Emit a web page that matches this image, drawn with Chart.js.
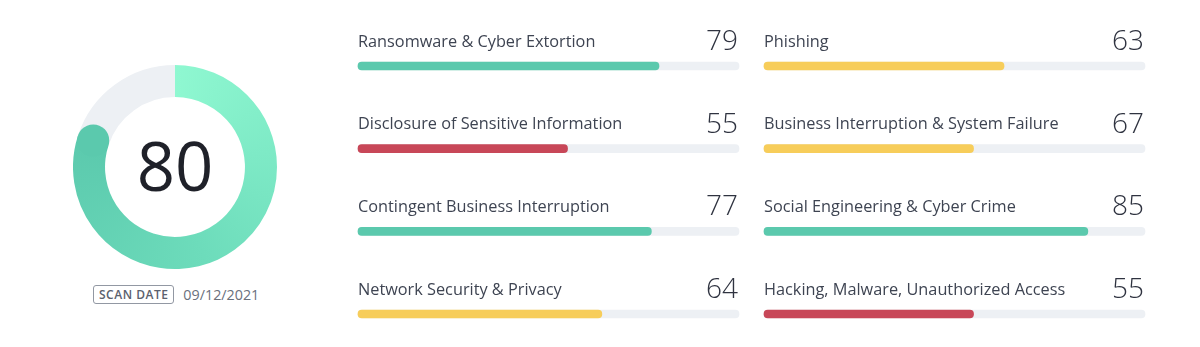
<!DOCTYPE html>
<html>
<head>
<meta charset="utf-8">
<script src="https://cdn.jsdelivr.net/npm/chart.js@4"></script>
<style>
  html, body { margin: 0; padding: 0; background: #fff; overflow: hidden; }
  body { width: 1200px; height: 347px; position: relative; font-family: "Open Sans", sans-serif; }
  .box { position: absolute; }
  #scan { position: absolute; left: 93px; top: 285px; height: 19px; display: flex; align-items: center; }
  #scan .tag { border: 1px solid #9298a3; border-radius: 3px; padding: 0 5px; height: 17px; line-height: 17px;
               font-size: 12px; font-weight: 600; letter-spacing: 0.5px; color: #5b616e; }
  #scan .date { margin-left: 9px; font-size: 14.3px; color: #6a707c; }
</style>
</head>
<body>
<div class="box" style="left:73px;top:65px;width:204px;height:204px;"><canvas id="gauge"></canvas></div>
<div class="box" style="left:340px;top:0;width:420px;height:347px;"><canvas id="leftBars"></canvas></div>
<div class="box" style="left:750px;top:0;width:420px;height:347px;"><canvas id="rightBars"></canvas></div>
<div id="scan"><span class="tag">SCAN DATE</span><span class="date" id="scanDate"></span></div>

<script>
// overall score and scan date
var score = 80;
var scanDate = "09/12/2021";

// left column of categories
var leftLabels = [
  "Ransomware & Cyber Extortion",
  "Disclosure of Sensitive Information",
  "Contingent Business Interruption",
  "Network Security & Privacy"
];
var leftScores = [79, 55, 77, 64];   // numbers shown
var leftFills = [79, 55, 77, 64];    // bar lengths as drawn

// right column of categories
var rightLabels = [
  "Phishing",
  "Business Interruption & System Failure",
  "Social Engineering & Cyber Crime",
  "Hacking, Malware, Unauthorized Access"
];
var rightScores = [63, 67, 85, 55];
var rightFills = [63, 55, 85, 55];   // the 67 bar is drawn at 55 in the source

var maxScore = 100;

var GREEN = "#5bc9ad", YELLOW = "#f7cd5a", RED = "#c84758", TRACK = "#edf0f4";

function scoreColor(v) {
  if (v >= 70) return GREEN;
  if (v >= 60) return YELLOW;
  return RED;
}

document.getElementById("scanDate").textContent = scanDate;

// gauge: doughnut with a conic gradient, a round cap and the score in the middle
var gaugePlugin = {
  id: "gaugeDecor",
  afterDatasetsDraw: function (chart) {
    var ctx = chart.ctx;
    var arc = chart.getDatasetMeta(0).data[0];
    var mid = (arc.innerRadius + arc.outerRadius) / 2;
    var capR = (arc.outerRadius - arc.innerRadius) / 2;
    ctx.save();
    ctx.fillStyle = GREEN;
    ctx.beginPath();
    ctx.arc(arc.x + Math.cos(arc.endAngle) * mid, arc.y + Math.sin(arc.endAngle) * mid, capR, 0, Math.PI * 2);
    ctx.fill();
    ctx.fillStyle = "#1f2129";
    ctx.font = "400 67px 'Open Sans'";
    ctx.textAlign = "center";
    ctx.textBaseline = "alphabetic";
    ctx.fillText(String(chart.data.datasets[0].data[0]), arc.x, arc.y + 24);
    ctx.restore();
  }
};

new Chart(document.getElementById("gauge"), {
  type: "doughnut",
  data: {
    labels: ["Score", "Rest"],
    datasets: [{
      data: [score, maxScore - score],
      borderWidth: 0,
      backgroundColor: function (c) {
        if (c.dataIndex === 1) return TRACK;
        var chart = c.chart, area = chart.chartArea;
        if (!area) return GREEN;
        var cx = (area.left + area.right) / 2, cy = (area.top + area.bottom) / 2;
        var g = chart.ctx.createConicGradient(-Math.PI / 2, cx, cy);
        g.addColorStop(0, "#8ff8d1");
        g.addColorStop(0.45, "#6ddcbb");
        g.addColorStop(0.8, GREEN);
        g.addColorStop(1, GREEN);
        return g;
      }
    }]
  },
  options: {
    responsive: true,
    maintainAspectRatio: false,
    animation: false,
    cutout: "68.6%",
    plugins: { legend: { display: false }, tooltip: { enabled: false } }
  },
  plugins: [gaugePlugin]
});

// text above each bar: label on the left, score on the right
var barTextPlugin = {
  id: "barText",
  afterDatasetsDraw: function (chart) {
    var ctx = chart.ctx, area = chart.chartArea;
    var meta = chart.getDatasetMeta(0);
    var shown = chart.options.plugins.barText.scores;
    ctx.save();
    meta.data.forEach(function (bar, i) {
      ctx.textAlign = "left";
      ctx.textBaseline = "alphabetic";
      ctx.fillStyle = "#3e4452";
      ctx.font = "400 16.3px 'Open Sans'";
      ctx.fillText(chart.data.labels[i], area.left, bar.y - 19.5);
      ctx.textAlign = "right";
      ctx.fillStyle = "#2f3340";
      ctx.font = "300 28px 'Open Sans'";
      ctx.fillText(String(shown[i]), area.right - 1, bar.y - 16);
    });
    ctx.restore();
  }
};

function makeBars(id, labels, scores, fills, padLeft, padRight) {
  return new Chart(document.getElementById(id), {
    type: "bar",
    data: {
      labels: labels,
      datasets: [{
        data: fills,
        backgroundColor: scores.map(scoreColor),
        barThickness: 8,
        borderRadius: 4,
        borderSkipped: false,
        grouped: false,
        clip: false,
        order: 0
      }, {
        data: fills.map(function () { return maxScore; }),
        backgroundColor: TRACK,
        barThickness: 8,
        borderRadius: 4,
        borderSkipped: false,
        grouped: false,
        clip: false,
        order: 1
      }]
    },
    options: {
      indexAxis: "y",
      responsive: true,
      maintainAspectRatio: false,
      animation: false,
      layout: { padding: { left: padLeft, right: padRight, top: 66, bottom: 33 } },
      scales: {
        x: { display: false, min: 0, max: maxScore },
        y: { display: false, offset: false }
      },
      plugins: {
        legend: { display: false },
        tooltip: { enabled: false },
        barText: { scores: scores }
      }
    },
    plugins: [barTextPlugin]
  });
}

makeBars("leftBars", leftLabels, leftScores, leftFills, 18, 21);
makeBars("rightBars", rightLabels, rightScores, rightFills, 14, 25);
</script>
</body>
</html>
